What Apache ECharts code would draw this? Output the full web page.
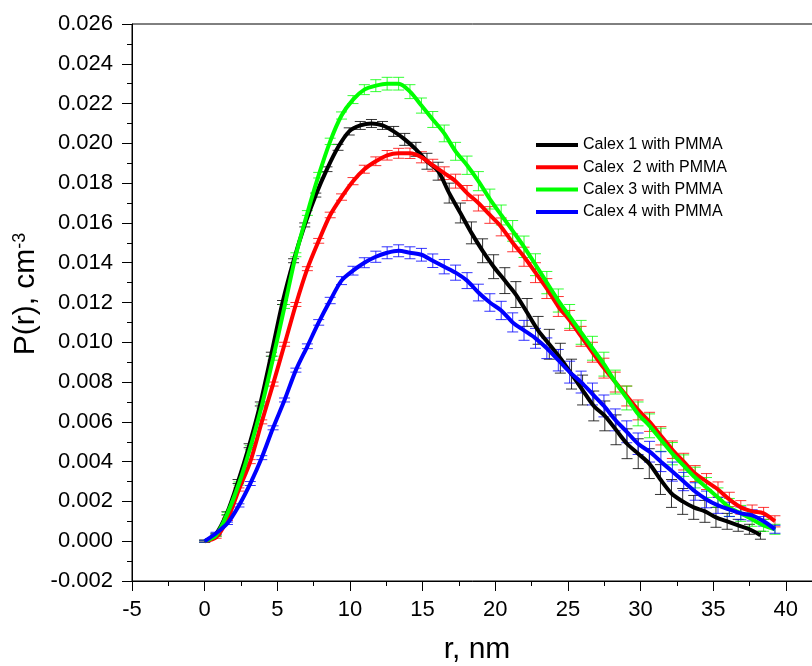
<!DOCTYPE html>
<html>

<head>
    <meta charset="utf-8">
    <script src="https://cdn.jsdelivr.net/npm/echarts@6/dist/echarts.min.js"></script>
    <style>
        html, body { margin: 0; padding: 0; background: #fff; }
        #main { width: 812px; height: 666px; }
    </style>
</head>

<body>
    <div id="main"></div>
</body>
<script>
    // series names and colours (legend order)
    var names = ['Calex 1 with PMMA', 'Calex  2 with PMMA', 'Calex 3 with PMMA', 'Calex 4 with PMMA'];
    var colors = ['#000000', '#ff0000', '#00ff00', '#0000ff'];

    // r, nm
    var rBlack = [0, 0.77, 1.53, 2.30, 3.06, 3.83, 4.59, 5.36, 6.12, 6.89, 7.65, 8.42, 9.18, 9.95, 10.71, 11.48, 12.24, 13.01, 13.77, 14.54,
        15.30, 16.07, 16.83, 17.60, 18.36, 19.13, 19.89, 20.66, 21.42, 22.19, 22.95, 23.72, 24.48, 25.25, 26.01, 26.78, 27.54, 28.31, 29.07,
        29.84, 30.60, 31.37, 32.13, 32.90, 33.66, 34.43, 35.19, 35.96, 36.72, 37.49, 38.25];
    var rOther = [0, 0.79, 1.57, 2.36, 3.14, 3.93, 4.71, 5.50, 6.28, 7.07, 7.85, 8.64, 9.42, 10.21, 10.99, 11.78, 12.56, 13.35, 14.13, 14.92,
        15.70, 16.49, 17.27, 18.06, 18.84, 19.63, 20.41, 21.20, 21.98, 22.77, 23.55, 24.34, 25.12, 25.91, 26.69, 27.48, 28.26, 29.05, 29.83,
        30.62, 31.40, 32.19, 32.97, 33.76, 34.54, 35.33, 36.11, 36.90, 37.68, 38.47, 39.25];

    // P(r), cm^-3
    var pBlack = [0, 0.00035, 0.0014, 0.0030, 0.0048, 0.0069, 0.0094, 0.0120, 0.0141, 0.0159, 0.0174, 0.0187, 0.0198, 0.0206, 0.0209, 0.0210,
        0.0209, 0.0206, 0.0202, 0.0197, 0.0191, 0.0186, 0.0175, 0.0165, 0.0155, 0.0146, 0.0138, 0.0131, 0.0124, 0.0115, 0.0106, 0.0099, 0.0092,
        0.0084, 0.0076, 0.0068, 0.0063, 0.0056, 0.0049, 0.0044, 0.0039, 0.0031, 0.0024, 0.0020, 0.0017, 0.0015, 0.0012, 0.0010, 0.0008, 0.0006, 0.0003];
    var pRed = [0, 0.0002, 0.0011, 0.0026, 0.0040, 0.0060, 0.0079, 0.0099, 0.0119, 0.0137, 0.0151, 0.0164, 0.0173, 0.0181, 0.0187, 0.0191,
        0.0194, 0.0195, 0.0195, 0.0193, 0.0189, 0.0185, 0.0181, 0.0175, 0.0170, 0.0164, 0.0158, 0.0150, 0.0143, 0.0135, 0.0127, 0.0118, 0.0111,
        0.0103, 0.0095, 0.0087, 0.0080, 0.0073, 0.0066, 0.0060, 0.0053, 0.0046, 0.0040, 0.0034, 0.0030, 0.0026, 0.0021, 0.0017, 0.0015, 0.0014, 0.0010];
    var pGreen = [0, 0.0003, 0.0014, 0.0029, 0.0047, 0.0068, 0.0092, 0.0118, 0.0144, 0.0165, 0.0184, 0.0201, 0.0214, 0.0222, 0.0227, 0.0229,
        0.0230, 0.0230, 0.0226, 0.0219, 0.0212, 0.0205, 0.0196, 0.0189, 0.0181, 0.0172, 0.0164, 0.0156, 0.0148, 0.0139, 0.0130, 0.0121, 0.0113,
        0.0105, 0.0097, 0.0089, 0.0080, 0.0072, 0.0064, 0.0058, 0.0051, 0.0044, 0.0038, 0.0032, 0.0027, 0.0022, 0.0017, 0.0014, 0.0011, 0.0008, 0.0006];
    var pBlue = [0, 0.0004, 0.0009, 0.0018, 0.0029, 0.0042, 0.0057, 0.0071, 0.0086, 0.0098, 0.0110, 0.0121, 0.0131, 0.0136, 0.0140, 0.0143,
        0.0145, 0.0146, 0.0145, 0.0144, 0.0141, 0.0138, 0.0135, 0.0131, 0.0125, 0.0120, 0.0116, 0.0110, 0.0106, 0.0102, 0.0097, 0.0091, 0.0085,
        0.0080, 0.0074, 0.0068, 0.0061, 0.0055, 0.0049, 0.0045, 0.0040, 0.0035, 0.0030, 0.0025, 0.0021, 0.0018, 0.0016, 0.0014, 0.0013, 0.0010, 0.0006];

    // error (+/-)
    var eBlack = [0.00005, 0.00005, 0.00008, 0.0001, 0.0001, 0.0001, 0.0001, 0.0001, 0.0001, 0.0001, 0.0001, 0.00012, 0.00015, 0.00018, 0.0002,
        0.0002, 0.0002, 0.00025, 0.0003, 0.00035, 0.0004, 0.00045, 0.0005, 0.0005, 0.00055, 0.0006, 0.0006, 0.00065, 0.00065, 0.0007, 0.0007,
        0.00075, 0.00075, 0.00075, 0.00075, 0.00075, 0.00075, 0.00075, 0.00075, 0.00075, 0.00075, 0.00075, 0.0007, 0.00065, 0.0006, 0.00055,
        0.0005, 0.0004, 0.0003, 0.00025, 0.0002];
    var eRed = [0.00005, 0.00005, 0.00006, 0.00008, 0.0001, 0.0001, 0.0001, 0.0001, 0.0001, 0.0001, 0.00012, 0.00014, 0.00016, 0.00018, 0.0002,
        0.00022, 0.00024, 0.00025, 0.00026, 0.00028, 0.0003, 0.00032, 0.00035, 0.00038, 0.0004, 0.00042, 0.00045, 0.00045, 0.00048, 0.0005,
        0.0005, 0.0005, 0.0005, 0.0005, 0.0005, 0.0005, 0.0005, 0.0005, 0.0005, 0.00048, 0.00046, 0.00044, 0.00042, 0.0004, 0.0004, 0.00038,
        0.00036, 0.00034, 0.00032, 0.0003, 0.00028];
    var eGreen = [0.00005, 0.00005, 0.00006, 0.00008, 0.0001, 0.0001, 0.0001, 0.0001, 0.0001, 0.00012, 0.00014, 0.00016, 0.00018, 0.0002, 0.00025,
        0.0003, 0.00032, 0.00032, 0.00035, 0.00038, 0.0004, 0.00042, 0.00045, 0.00046, 0.00048, 0.0005, 0.0005, 0.00052, 0.00054, 0.00055,
        0.00056, 0.00058, 0.0006, 0.0006, 0.0006, 0.0006, 0.0006, 0.0006, 0.0006, 0.0006, 0.00058, 0.00056, 0.00054, 0.00052, 0.0005, 0.00048,
        0.00045, 0.0004, 0.00035, 0.0003, 0.00025];
    var eBlue = [0.00005, 0.00005, 0.00006, 0.00008, 0.0001, 0.0001, 0.0001, 0.0001, 0.0001, 0.00012, 0.00014, 0.00016, 0.0002, 0.00022, 0.00025,
        0.00028, 0.0003, 0.0003, 0.0003, 0.00032, 0.00034, 0.00036, 0.00038, 0.0004, 0.00042, 0.00044, 0.00046, 0.00048, 0.0005, 0.0005,
        0.00052, 0.00054, 0.00055, 0.00055, 0.00055, 0.00055, 0.00055, 0.00055, 0.00054, 0.00052, 0.0005, 0.00048, 0.00046, 0.00044, 0.00042,
        0.0004, 0.00036, 0.00032, 0.00028, 0.00024, 0.0002];

    var rs = [rBlack, rOther, rOther, rOther];
    var ps = [pBlack, pRed, pGreen, pBlue];
    var es = [eBlack, eRed, eGreen, eBlue];

    var font = 'Liberation Sans, Arial, sans-serif';

    function errorBars(color) {
        return function (params, api) {
            var top = api.coord([api.value(0), api.value(2)]);
            var bot = api.coord([api.value(0), api.value(1)]);
            var hw = 5.5;
            var st = { stroke: color, lineWidth: 1, opacity: 0.8 };
            return {
                type: 'group',
                children: [
                    { type: 'line', shape: { x1: top[0], y1: top[1], x2: bot[0], y2: bot[1] }, style: st },
                    { type: 'line', shape: { x1: top[0] - hw, y1: top[1], x2: top[0] + hw, y2: top[1] }, style: st },
                    { type: 'line', shape: { x1: bot[0] - hw, y1: bot[1], x2: bot[0] + hw, y2: bot[1] }, style: st }
                ]
            };
        };
    }

    var series = [];
    for (var k = 0; k < 4; k++) {
        var errData = [], lineData = [];
        for (var i = 0; i < ps[k].length; i++) {
            lineData.push([rs[k][i], ps[k][i]]);
            errData.push([rs[k][i], ps[k][i] - es[k][i], ps[k][i] + es[k][i]]);
        }
        series.push({
            name: 'err' + k,
            type: 'custom',
            renderItem: errorBars(colors[k]),
            encode: { x: 0, y: [1, 2] },
            data: errData,
            z: 1,
            silent: true
        });
        series.push({
            name: names[k],
            type: 'line',
            data: lineData,
            smooth: 0.3,
            showSymbol: false,
            lineStyle: { color: colors[k], width: 4 },
            itemStyle: { color: colors[k] },
            z: 2 + k
        });
    }

    var myChart = echarts.init(document.getElementById('main'));
    myChart.setOption({
        animation: false,
        backgroundColor: '#fff',
        grid: {
            left: 132, top: 24, bottom: 85, right: -46.5,
            containLabel: false,
            outerBoundsMode: 'none',
            show: true,
            borderColor: '#000',
            borderWidth: 1
        },
        legend: {
            orient: 'vertical',
            left: 536,
            top: 136,
            padding: 0,
            itemWidth: 42,
            itemHeight: 4,
            itemGap: 4.3,
            data: names.map(function (n) { return { name: n, icon: 'rect' }; }),
            textStyle: { fontFamily: font, fontSize: 16, color: '#000', lineHeight: 18 }
        },
        xAxis: {
            type: 'value',
            min: -5,
            max: 45,
            interval: 5,
            axisLine: { show: true, onZero: false, lineStyle: { color: '#000', width: 1 } },
            axisTick: { show: true, length: 10, lineStyle: { color: '#000' } },
            minorTick: { show: true, splitNumber: 2, length: 5, lineStyle: { color: '#000' } },
            splitLine: { show: false },
            axisLabel: { margin: 18, fontFamily: font, fontSize: 22, color: '#000' }
        },
        yAxis: {
            type: 'value',
            min: -0.002,
            max: 0.026,
            interval: 0.002,
            axisLine: { show: true, onZero: false, lineStyle: { color: '#000', width: 1 } },
            axisTick: { show: true, length: 10, lineStyle: { color: '#000' } },
            minorTick: { show: true, splitNumber: 2, length: 5, lineStyle: { color: '#000' } },
            splitLine: { show: false },
            axisLabel: {
                margin: 19, fontFamily: font, fontSize: 22, color: '#000',
                formatter: function (v) { return v.toFixed(3); }
            }
        },
        graphic: [
            {
                type: 'text',
                x: 477, y: 650,
                style: { text: 'r, nm', fontFamily: font, fontSize: 30, fill: '#000', align: 'center', verticalAlign: 'middle' }
            },
            {
                type: 'text',
                x: 26, y: 294,
                rotation: Math.PI / 2,
                style: {
                    text: '{a|P(r), cm}{s|-3}',
                    align: 'center', verticalAlign: 'middle',
                    rich: {
                        a: { fontFamily: font, fontSize: 30, fill: '#000', verticalAlign: 'bottom' },
                        s: { fontFamily: font, fontSize: 18, fill: '#000', verticalAlign: 'top' }
                    }
                }
            }
        ],
        series: series
    });
</script>

</html>
